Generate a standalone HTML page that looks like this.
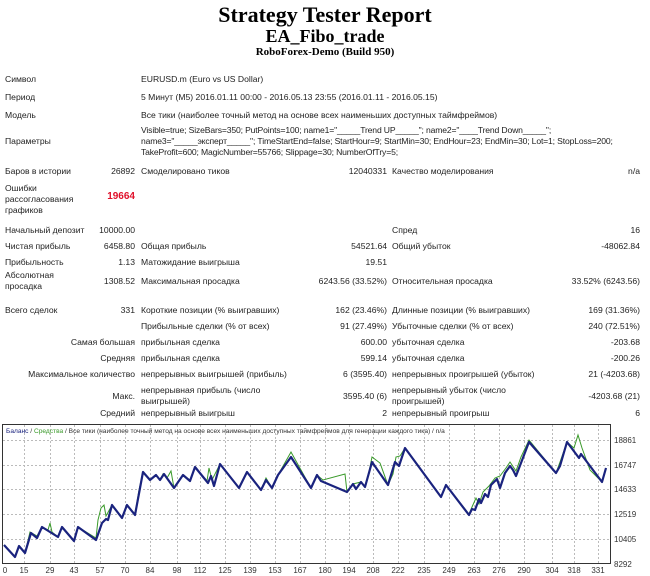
<!DOCTYPE html>
<html><head><meta charset="utf-8"><style>
body{margin:0;width:650px;height:576px;background:#fff;position:relative;overflow:hidden;font-family:"Liberation Sans","DejaVu Sans",sans-serif;font-size:8.6px;color:#222}
.t{position:absolute;white-space:nowrap;line-height:11px}
.r{text-align:right}
.h{position:absolute;left:0;width:650px;text-align:center;font-family:"Liberation Serif",serif;font-weight:bold;color:#000}
</style></head><body>
<div class="h" style="top:2px;font-size:22px">Strategy Tester Report</div>
<div class="h" style="top:26px;font-size:18px">EA_Fibo_trade</div>
<div class="h" style="top:46px;font-size:11px">RoboForex-Demo (Build 950)</div>

<div class="t" style="left:5px;top:74px">Символ</div>
<div class="t" style="left:141px;top:74px">EURUSD.m (Euro vs US Dollar)</div>
<div class="t" style="left:5px;top:92px">Период</div>
<div class="t" style="left:141px;top:92px">5 Минут (M5) 2016.01.11 00:00 - 2016.05.13 23:55 (2016.01.11 - 2016.05.15)</div>
<div class="t" style="left:5px;top:110px">Модель</div>
<div class="t" style="left:141px;top:110px">Все тики (наиболее точный метод на основе всех наименьших доступных таймфреймов)</div>
<div class="t" style="left:5px;top:136px">Параметры</div>
<div class="t" style="left:141px;top:125px;letter-spacing:-0.15px">Visible=true; SizeBars=350; PutPoints=100; name1="_____Trend UP_____"; name2="____Trend Down_____";</div>
<div class="t" style="left:141px;top:136px;letter-spacing:-0.15px">name3="_____эксперт_____"; TimeStartEnd=false; StartHour=9; StartMin=30; EndHour=23; EndMin=30; Lot=1; StopLoss=200;</div>
<div class="t" style="left:141px;top:147px;letter-spacing:-0.15px">TakeProfit=600; MagicNumber=55766; Slippage=30; NumberOfTry=5;</div>

<div class="t" style="left:5px;top:166px">Баров в истории</div>
<div class="t r" style="right:515px;top:166px">26892</div>
<div class="t" style="left:141px;top:166px">Смоделировано тиков</div>
<div class="t r" style="right:263px;top:166px">12040331</div>
<div class="t" style="left:392px;top:166px">Качество моделирования</div>
<div class="t r" style="right:10px;top:166px">n/a</div>

<div class="t" style="left:5px;top:183px">Ошибки<br>рассогласования<br>графиков</div>
<div class="t r" style="right:515px;top:191px;color:#e0102a;font-weight:bold;font-size:10px">19664</div>

<div class="t" style="left:5px;top:225px">Начальный депозит</div>
<div class="t r" style="right:515px;top:225px">10000.00</div>
<div class="t" style="left:392px;top:225px">Спред</div>
<div class="t r" style="right:10px;top:225px">16</div>

<div class="t" style="left:5px;top:241px">Чистая прибыль</div>
<div class="t r" style="right:515px;top:241px">6458.80</div>
<div class="t" style="left:141px;top:241px">Общая прибыль</div>
<div class="t r" style="right:263px;top:241px">54521.64</div>
<div class="t" style="left:392px;top:241px">Общий убыток</div>
<div class="t r" style="right:10px;top:241px">-48062.84</div>

<div class="t" style="left:5px;top:257px">Прибыльность</div>
<div class="t r" style="right:515px;top:257px">1.13</div>
<div class="t" style="left:141px;top:257px">Матожидание выигрыша</div>
<div class="t r" style="right:263px;top:257px">19.51</div>

<div class="t" style="left:5px;top:270px">Абсолютная<br>просадка</div>
<div class="t r" style="right:515px;top:276px">1308.52</div>
<div class="t" style="left:141px;top:276px">Максимальная просадка</div>
<div class="t r" style="right:263px;top:276px">6243.56 (33.52%)</div>
<div class="t" style="left:392px;top:276px">Относительная просадка</div>
<div class="t r" style="right:10px;top:276px">33.52% (6243.56)</div>

<div class="t" style="left:5px;top:305px">Всего сделок</div>
<div class="t r" style="right:515px;top:305px">331</div>
<div class="t" style="left:141px;top:305px">Короткие позиции (% выигравших)</div>
<div class="t r" style="right:263px;top:305px">162 (23.46%)</div>
<div class="t" style="left:392px;top:305px">Длинные позиции (% выигравших)</div>
<div class="t r" style="right:10px;top:305px">169 (31.36%)</div>

<div class="t" style="left:141px;top:321px">Прибыльные сделки (% от всех)</div>
<div class="t r" style="right:263px;top:321px">91 (27.49%)</div>
<div class="t" style="left:392px;top:321px">Убыточные сделки (% от всех)</div>
<div class="t r" style="right:10px;top:321px">240 (72.51%)</div>

<div class="t r" style="right:515px;top:337px">Самая большая</div>
<div class="t" style="left:141px;top:337px">прибыльная сделка</div>
<div class="t r" style="right:263px;top:337px">600.00</div>
<div class="t" style="left:392px;top:337px">убыточная сделка</div>
<div class="t r" style="right:10px;top:337px">-203.68</div>

<div class="t r" style="right:515px;top:353px">Средняя</div>
<div class="t" style="left:141px;top:353px">прибыльная сделка</div>
<div class="t r" style="right:263px;top:353px">599.14</div>
<div class="t" style="left:392px;top:353px">убыточная сделка</div>
<div class="t r" style="right:10px;top:353px">-200.26</div>

<div class="t r" style="right:515px;top:369px">Максимальное количество</div>
<div class="t" style="left:141px;top:369px">непрерывных выигрышей (прибыль)</div>
<div class="t r" style="right:263px;top:369px">6 (3595.40)</div>
<div class="t" style="left:392px;top:369px">непрерывных проигрышей (убыток)</div>
<div class="t r" style="right:10px;top:369px">21 (-4203.68)</div>

<div class="t r" style="right:515px;top:391px">Макс.</div>
<div class="t" style="left:141px;top:385px">непрерывная прибыль (число<br>выигрышей)</div>
<div class="t r" style="right:263px;top:391px">3595.40 (6)</div>
<div class="t" style="left:392px;top:385px">непрерывный убыток (число<br>проигрышей)</div>
<div class="t r" style="right:10px;top:391px">-4203.68 (21)</div>

<div class="t r" style="right:515px;top:408px">Средний</div>
<div class="t" style="left:141px;top:408px">непрерывный выигрыш</div>
<div class="t r" style="right:263px;top:408px">2</div>
<div class="t" style="left:392px;top:408px">непрерывный проигрыш</div>
<div class="t r" style="right:10px;top:408px">6</div>

<svg style="position:absolute;left:0;top:0" width="650" height="576">
<g stroke="#bbb" stroke-dasharray="2,2" stroke-width="1">
<line x1="3" y1="440.5" x2="610" y2="440.5"/><line x1="3" y1="465.5" x2="610" y2="465.5"/><line x1="3" y1="489.5" x2="610" y2="489.5"/><line x1="3" y1="514.5" x2="610" y2="514.5"/><line x1="3" y1="539.5" x2="610" y2="539.5"/>
<line x1="24.5" y1="425" x2="24.5" y2="563"/><line x1="50.5" y1="425" x2="50.5" y2="563"/><line x1="74.5" y1="425" x2="74.5" y2="563"/><line x1="100.5" y1="425" x2="100.5" y2="563"/><line x1="125.5" y1="425" x2="125.5" y2="563"/><line x1="150.5" y1="425" x2="150.5" y2="563"/><line x1="177.5" y1="425" x2="177.5" y2="563"/><line x1="200.5" y1="425" x2="200.5" y2="563"/><line x1="225.5" y1="425" x2="225.5" y2="563"/><line x1="250.5" y1="425" x2="250.5" y2="563"/><line x1="275.5" y1="425" x2="275.5" y2="563"/><line x1="300.5" y1="425" x2="300.5" y2="563"/><line x1="325.5" y1="425" x2="325.5" y2="563"/><line x1="349.5" y1="425" x2="349.5" y2="563"/><line x1="373.5" y1="425" x2="373.5" y2="563"/><line x1="398.5" y1="425" x2="398.5" y2="563"/><line x1="424.5" y1="425" x2="424.5" y2="563"/><line x1="449.5" y1="425" x2="449.5" y2="563"/><line x1="474.5" y1="425" x2="474.5" y2="563"/><line x1="499.5" y1="425" x2="499.5" y2="563"/><line x1="524.5" y1="425" x2="524.5" y2="563"/><line x1="552.5" y1="425" x2="552.5" y2="563"/><line x1="574.5" y1="425" x2="574.5" y2="563"/><line x1="598.5" y1="425" x2="598.5" y2="563"/>
</g>
<rect x="2.5" y="424.5" width="608" height="139" fill="none" stroke="#333" stroke-width="1"/>
<polyline fill="none" stroke="#3a9a2a" stroke-width="1" points="4,545 15,557 19,546 25,553 30,532 37,536 42,527 48,530 50,523 52,532 58,537 62,527 74,541 78,527 96,538 98,520 101,508 104,505 106,516 112,505 122,518 127,505 135,514 139,490 143,472 150,480 156,475 160,480 163,474 167,478 171,471 174,488 183,475 190,480 195,467 207,481 209,468 212,480 220,464 239,488 247,472 261,490 266,478 272,488 278,475 291,452 311,488 317,475 323,480 345,474 347,492 353,484 361,482 365,487 369,472 372,457 380,463 388,485 393,474 396,457 400,456 405,448 441,497 446,485 469,514 472,507 476,498 479,504 483,492 489,486 495,478 500,476 506,468 510,462 516,471 521,457 529,440 556,473 560,462 567,442 574,448 578,435 582,448 590,470 602,482 606,468"/>
<polyline fill="none" stroke="#1a237e" stroke-width="2.2" stroke-linejoin="round" points="4,545 15,557 19,546 25,553 31,533 37,538 42,527 58,537 62,527 74,541 78,527 96,540 102,523 106,519 108,520 112,505 122,518 127,505 135,515 143,472 150,480 156,475 160,480 164,474 174,488 183,475 190,481 195,467 208,483 211,476 214,486 220,464 239,488 247,472 261,490 266,480 272,488 278,475 291,457 311,488 317,475 321,481 347,492 353,484 356,489 361,482 365,487 372,462 388,485 395,462 399,466 405,448 441,497 446,485 469,515 472,509 475,510 479,499 481,503 485,494 488,497 491,485 497,479 500,488 505,473 510,466 513,470 516,476 521,463 529,442 556,473 560,466 567,442 579,458 581,454 602,482 606,468"/>
<text x="6" y="433" font-size="6.6" font-family="Liberation Sans,sans-serif"><tspan fill="#1a237e">Баланс</tspan><tspan fill="#333"> / </tspan><tspan fill="#3a9a2a">Средства</tspan><tspan fill="#333"> / Все тики (наиболее точный метод на основе всех наименьших доступных таймфреймов для генерации каждого тика) / n/a</tspan></text>
<g font-size="8" font-family="Liberation Sans,sans-serif" fill="#333">
<text x="614" y="443">18861</text><text x="614" y="468">16747</text><text x="614" y="492">14633</text><text x="614" y="517">12519</text><text x="614" y="542">10405</text><text x="614" y="567">8292</text>
</g>
<g font-size="8" font-family="Liberation Sans,sans-serif" fill="#333" text-anchor="middle">
<text x="5" y="573">0</text><text x="24" y="573">15</text><text x="50" y="573">29</text><text x="74" y="573">43</text><text x="100" y="573">57</text><text x="125" y="573">70</text><text x="150" y="573">84</text><text x="177" y="573">98</text><text x="200" y="573">112</text><text x="225" y="573">125</text><text x="250" y="573">139</text><text x="275" y="573">153</text><text x="300" y="573">167</text><text x="325" y="573">180</text><text x="349" y="573">194</text><text x="373" y="573">208</text><text x="398" y="573">222</text><text x="424" y="573">235</text><text x="449" y="573">249</text><text x="474" y="573">263</text><text x="499" y="573">276</text><text x="524" y="573">290</text><text x="552" y="573">304</text><text x="574" y="573">318</text><text x="598" y="573">331</text>
</g>
</svg>
</body></html>
